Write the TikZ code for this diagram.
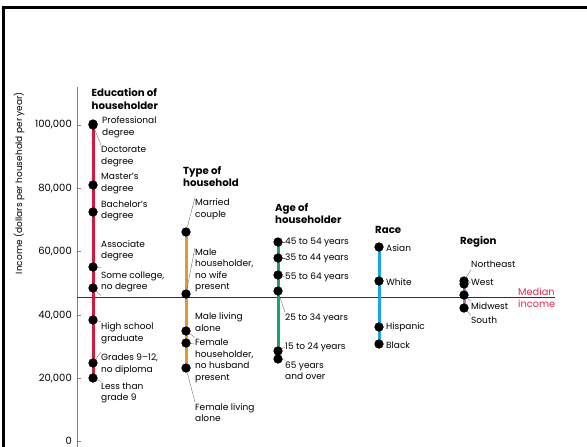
\documentclass[tikz,border=0pt]{standalone}
\usepackage{fontspec}
\setmainfont{Poppins}
\definecolor{cred}{HTML}{D6173F}
\definecolor{corange}{HTML}{E8962E}
\definecolor{cgreen}{HTML}{17A27B}
\definecolor{cblue}{HTML}{1AA6E0}
\definecolor{cpurple}{HTML}{B76FA8}
\definecolor{cmed}{HTML}{E0284F}
\definecolor{caxis}{HTML}{808080}
\tikzset{
  dot/.style={circle, fill=black, inner sep=0pt, minimum size=9pt},
  lbl/.style={anchor=west, align=left, inner sep=0pt, font=\fontsize{9}{11.5}\selectfont},
  ttl/.style={anchor=west, align=left, inner sep=0pt, font=\bfseries\fontsize{10.2}{12.5}\selectfont},
  ticklbl/.style={anchor=east, inner sep=0pt, font=\fontsize{10}{12}\selectfont},
  lead/.style={draw=black!60, line width=0.35pt},
  bar/.style={line width=3pt},
}
\begin{document}
\begin{tikzpicture}[x=1pt,y=-1pt]
\useasboundingbox (0,0) rectangle (587,447);
% frame
\coordinate (f0) at (3.5,447);
\coordinate (f1) at (3.5,7.5);
\coordinate (f2) at (587,7.5);
\draw[line width=3pt, black] (f0) -- (f1) -- (f2);
% axis
\coordinate (ax0) at (77,87);
\coordinate (ax1) at (77,447);
\draw[caxis, line width=0.9pt] (ax0) -- (ax1);
\foreach \v/\y in {0/441, {20,000}/378.2, {40,000}/315.4, {60,000}/251.6, {80,000}/188.3, {100,000}/125}{
  \draw[caxis, line width=0.9pt] (77,\y) -- (81,\y);
  \node[ticklbl] at (72,\y) {\v};
}
\node[rotate=90, inner sep=0pt, font=\fontsize{9}{10}\selectfont] (ylab) at (19,183) {Income (dollars per household per year)};
% median line
\coordinate (m0) at (77,297);
\coordinate (m1) at (555,297);
\draw[black!80, line width=0.8pt] (m0) -- (m1);
\node[lbl, text=cmed, font=\fontsize{9.8}{12.5}\selectfont] (med) at (518,298) {Median\\income};

% ===== Education =====
\node[ttl] (te) at (91.5,99) {Education of\\householder};
\coordinate (e0) at (93,124);
\coordinate (e1) at (93,378);
\draw[bar, cred] (e0) -- (e1);
\node[dot] (eP) at (93,124) {};
\node[dot] (eD) at (93,125) {};
\node[dot] (eM) at (93,185) {};
\node[dot] (eB) at (93,212) {};
\node[dot] (eA) at (93,267) {};
\node[dot] (eS) at (93,288) {};
\node[dot] (eH) at (93,320) {};
\node[dot] (eG) at (93,363) {};
\node[dot] (eL) at (93,378) {};
\node[lbl] (lP) at (102,127.5) {Professional\\degree};
\node[lbl] (lD) at (101,156.5) {Doctorate\\degree};
\node[lbl] (lM) at (101,183.5) {Master's\\degree};
\node[lbl] (lB) at (101,211) {Bachelor's\\degree};
\node[lbl] (lA) at (101,251) {Associate\\degree};
\node[lbl] (lS) at (101,282) {Some college,\\no degree};
\node[lbl] (lH) at (101,333.5) {High school\\graduate};
\node[lbl] (lG) at (101,364.5) {Grades 9–12,\\no diploma};
\node[lbl] (lL) at (101,393) {Less than\\grade 9};
\draw[lead] (eD.center) -- ([yshift=1pt]lD.north west);
\draw[lead] (eA.center) -- ([yshift=-6pt]lA.south west);
\draw[lead] (eS.center) -- ([yshift=-3pt]lS.south west);
\draw[lead] (eH.center) -- ([yshift=1pt]lH.north west);
\draw[lead] (eG.center) -- ([yshift=2pt]lG.north west);
\draw[lead] (eL.center) -- ([yshift=1pt]lL.north west);
\foreach \n in {eP,eD,eM,eB,eA,eS,eH,eG,eL}{\fill (\n) circle (4.5pt);}

% ===== Type of household =====
\node[ttl] (tt) at (183,176.5) {Type of\\household};
\coordinate (h0) at (186,232);
\coordinate (h1) at (186,368);
\draw[bar, corange] (h0) -- (h1);
\node[dot] (hM) at (186,232) {};
\node[dot] (hH) at (186,294) {};
\node[dot] (hA) at (186,331) {};
\node[dot] (hF) at (186,343) {};
\node[dot] (hL) at (186,368) {};
\node[lbl] (kM) at (195,209) {Married\\couple};
\node[lbl] (kH) at (195,270.5) {Male\\householder,\\no wife\\present};
\node[lbl] (kA) at (195,322) {Male living\\alone};
\node[lbl] (kF) at (195,361) {Female\\householder,\\no husband\\present};
\node[lbl] (kL) at (195,412.5) {Female living\\alone};
\draw[lead] (hM.center) -- ([yshift=1pt]kM.north west);
\draw[lead] (hH.center) -- ([yshift=1pt]kH.north west);
\draw[lead] (hA.center) -- ([yshift=-6pt]kA.south west);
\draw[lead] (hF.center) -- ([yshift=-5pt]kF.north west);
\draw[lead] (hL.center) -- ([yshift=1pt]kL.north west);
\foreach \n in {hM,hH,hA,hF,hL}{\fill (\n) circle (4.5pt);}

% ===== Age of householder =====
\node[ttl] (ta) at (275,213.5) {Age of\\householder};
\coordinate (a0) at (278,242);
\coordinate (a1) at (278,359);
\draw[bar, cgreen] (a0) -- (a1);
\node[dot] (a45) at (278,242) {};
\node[dot] (a35) at (278,258) {};
\node[dot] (a55) at (278,275) {};
\node[dot] (a25) at (278,291) {};
\node[dot] (a15) at (278,351) {};
\node[dot] (a65) at (278,359) {};
\node[lbl] (g45) at (285,242) {45 to 54 years};
\node[lbl] (g35) at (285,258) {35 to 44 years};
\node[lbl] (g55) at (285,277) {55 to 64 years};
\node[lbl] (g25) at (285,318) {25 to 34 years};
\node[lbl] (g15) at (285,347) {15 to 24 years};
\node[lbl] (g65) at (285,370.5) {65 years\\and over};
\draw[lead] (a45.center) -- (g45.west);
\draw[lead] (a35.center) -- (g35.west);
\draw[lead] (a55.center) -- (g55.west);
\draw[lead] (a25.center) -- ([yshift=1pt]g25.north west);
\draw[lead] (a15.center) -- (g15.west);
\draw[lead] (a65.center) -- ([yshift=1pt]g65.north west);
\foreach \n in {a45,a35,a55,a25,a15,a65}{\fill (\n) circle (4.5pt);}

% ===== Race =====
\node[ttl] (tr) at (375,230) {Race};
\coordinate (r0) at (379,247);
\coordinate (r1) at (379,344);
\draw[bar, cblue] (r0) -- (r1);
\node[dot] (rA) at (379,247) {};
\node[dot] (rW) at (379,281) {};
\node[dot] (rH) at (379,327) {};
\node[dot] (rB) at (379,344) {};
\node[lbl] (sA) at (386,248) {Asian};
\node[lbl] (sW) at (386,282) {White};
\node[lbl] (sH) at (386,327) {Hispanic};
\node[lbl] (sB) at (386,345) {Black};
\foreach \n in {rA,rW,rH,rB}{\fill (\n) circle (4.5pt);}

% ===== Region =====
\node[ttl] (tg) at (460,242) {Region};
\coordinate (g0) at (464,281);
\coordinate (g1) at (464,308);
\draw[bar, cpurple] (g0) -- (g1);
\node[dot] (gN) at (464,281) {};
\node[dot] (gW) at (464,284) {};
\node[dot] (gM) at (464,295) {};
\node[dot] (gS) at (464,308) {};
\node[lbl] (qN) at (471,264) {Northeast};
\node[lbl] (qW) at (471,282) {West};
\node[lbl] (qM) at (471,306) {Midwest};
\node[lbl] (qS) at (471,320) {South};
\draw[lead] (gN.center) -- ([yshift=-2pt]qN.south west);
\draw[lead] (gW.center) -- (qW.west);
\draw[lead] (gM.center) -- ([yshift=1pt]qM.north west);
\draw[lead] (gS.center) -- ([yshift=1pt]qS.north west);
\foreach \n in {gN,gW,gM,gS}{\fill (\n) circle (4.5pt);}
\end{tikzpicture}
\end{document}
